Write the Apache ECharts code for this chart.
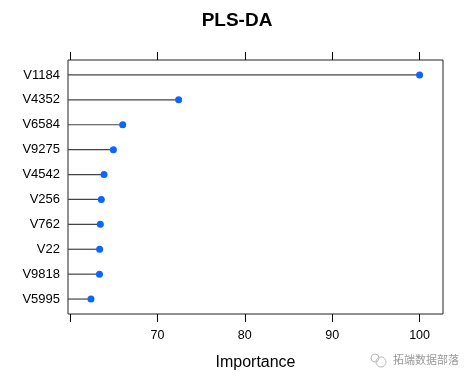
<!DOCTYPE html>
<html>
<head>
<meta charset="utf-8">
<script src="https://cdn.jsdelivr.net/npm/echarts@6/dist/echarts.min.js"></script>
<style>html,body{margin:0;padding:0;background:#fff;}#c{width:474px;height:382px;}</style>
</head>
<body>
<div id="c"></div>
<script>
var categories = ['V1184','V4352','V6584','V9275','V4542','V256','V762','V22','V9818','V5995'];
var importance = [100, 72.43, 66.03, 64.96, 63.89, 63.58, 63.47, 63.39, 63.37, 62.40];
var tickValues = [60, 70, 80, 90, 100];
var labelValues = [70, 80, 90, 100];

var xMin = 59.77, xMax = 102.68;
var FONT = '"Liberation Sans", Arial, Helvetica, sans-serif';

var points = importance.map(function (v, i) { return [v, i + 1]; });

var chart = echarts.init(document.getElementById('c'), null, {renderer: 'canvas'});
chart.setOption({
  animation: false,
  backgroundColor: '#fff',
  title: {
    text: 'PLS-DA', left: 'center', top: 6,
    textStyle: {fontFamily: FONT, fontSize: 19, fontWeight: 'bold', color: '#000'}
  },
  grid: {left: 68, right: 31, top: 60, bottom: 68, show: true, borderColor: '#222', borderWidth: 1, backgroundColor: 'transparent'},
  xAxis: [{
    type: 'value', position: 'bottom', min: xMin, max: xMax,
    name: 'Importance', nameLocation: 'middle', nameGap: 41,
    nameTextStyle: {fontFamily: FONT, fontSize: 16, color: '#000'},
    axisLine: {show: false},
    axisTick: {show: true, customValues: tickValues, length: 8, inside: false, lineStyle: {color: '#000', width: 1}},
    axisLabel: {show: true, customValues: labelValues, margin: 15, fontFamily: FONT, fontSize: 12.5, color: '#000'},
    splitLine: {show: false}
  }, {
    type: 'value', position: 'top', min: xMin, max: xMax,
    axisLine: {show: false},
    axisTick: {show: true, customValues: tickValues, length: 8, inside: false, lineStyle: {color: '#000', width: 1}},
    axisLabel: {show: false},
    splitLine: {show: false}
  }],
  yAxis: {
    type: 'value', min: 0.4, max: 10.6, inverse: true,
    axisLine: {show: false},
    axisTick: {show: false},
    axisLabel: {
      show: true, customValues: [1,2,3,4,5,6,7,8,9,10], margin: 8,
      fontFamily: FONT, fontSize: 13, color: '#000', padding: [2, 0, 0, 0],
      formatter: function (v) { return categories[Math.round(v) - 1] || ''; }
    },
    splitLine: {show: false}
  },
  series: [{
    type: 'custom',
    xAxisIndex: 0,
    data: points,
    renderItem: function (params, api) {
      var start = api.coord([xMin, api.value(1)]);
      var end = api.coord([api.value(0), api.value(1)]);
      return {
        type: 'line',
        shape: {x1: start[0], y1: start[1], x2: end[0], y2: end[1]},
        style: {stroke: '#444', lineWidth: 1.2}
      };
    },
    z: 1
  }, {
    type: 'scatter',
    xAxisIndex: 0,
    data: points,
    symbol: 'circle',
    symbolSize: 7,
    itemStyle: {color: '#0a66ff', opacity: 1},
    z: 2
  }],
  graphic: [
    {type: 'circle', shape: {cx: 375, cy: 358, r: 4}, style: {fill: 'none', stroke: '#bbb', lineWidth: 1}},
    {type: 'circle', shape: {cx: 381, cy: 362, r: 5}, style: {fill: 'none', stroke: '#bbb', lineWidth: 1}},
    {type: 'text', left: 393, top: 354, style: {text: '拓端数据部落', fontFamily: '"Noto Sans CJK SC", sans-serif', fontSize: 11, fill: '#999'}}
  ]
});
</script>
</body>
</html>
